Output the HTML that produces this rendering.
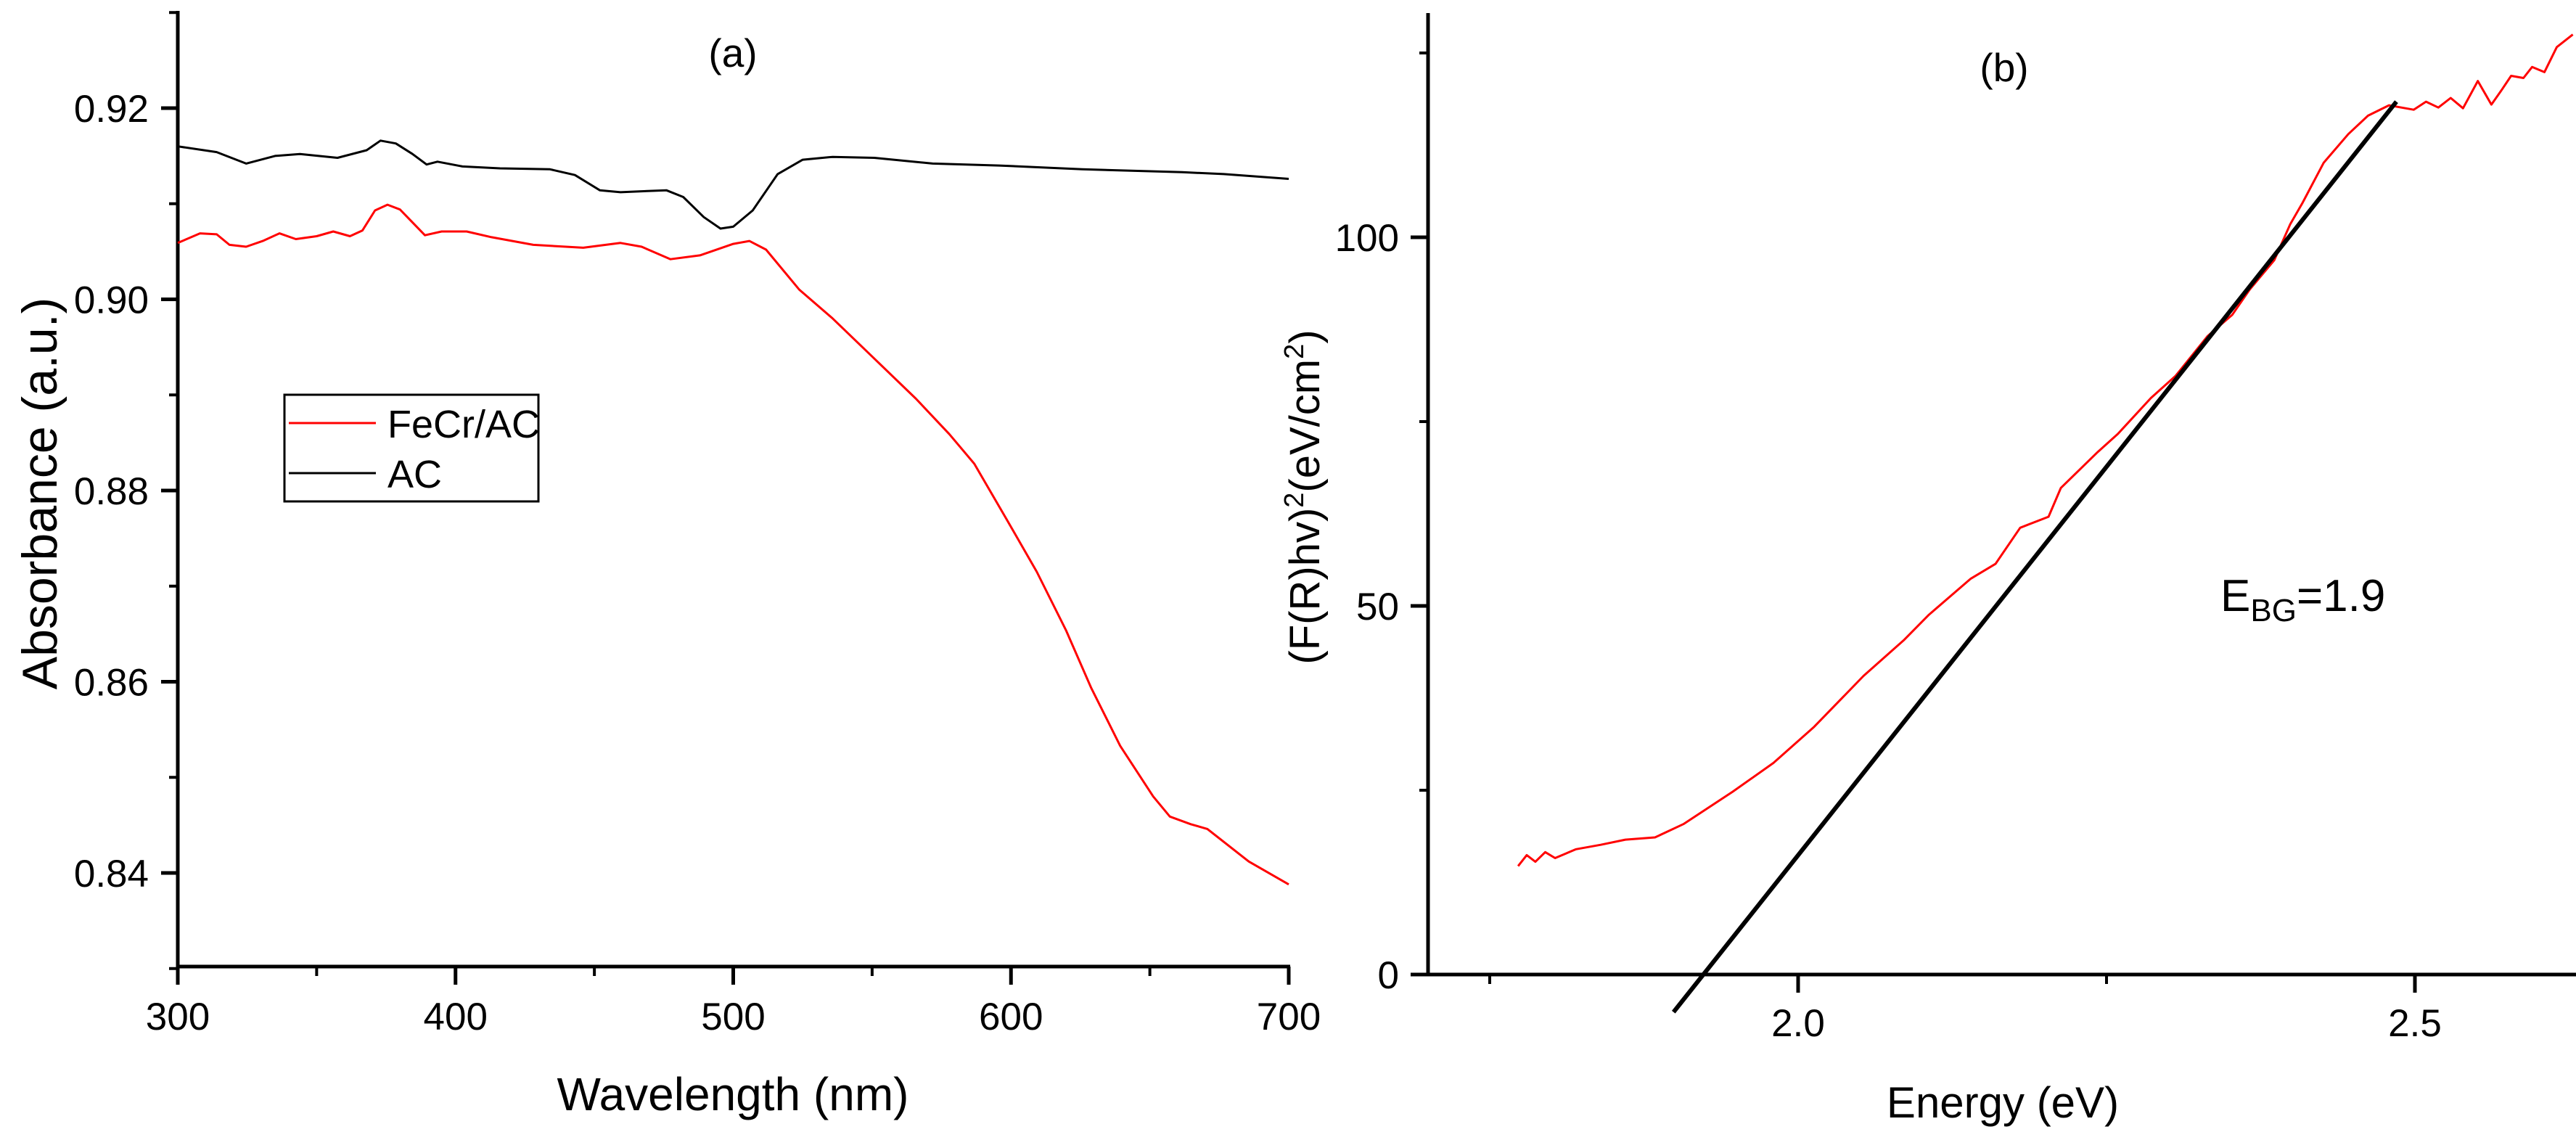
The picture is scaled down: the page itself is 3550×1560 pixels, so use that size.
<!DOCTYPE html>
<html><head><meta charset="utf-8"><style>
html,body{margin:0;padding:0;background:#fff;}
svg{display:block;font-family:"Liberation Sans",Arial,sans-serif;}
</style></head><body>
<svg id="fig" width="3550" height="1560" viewBox="0 0 3550 1560" xmlns="http://www.w3.org/2000/svg">
<g id="pa"></g>
<g id="pb"></g>
</svg>
<script>
// Panel (a) data
const waveAC = [300,314,324.6,335,344,357.5,368,373,378.5,384.5,389.6,393.5,402.5,416,434,443,452,459.4,467,476,482,489.4,495.4,500,507,516,525,535.8,550.8,571.8,595.7,625.7,661.6,676.6,700];
const absAC = [.9160,.9154,.9142,.9150,.9152,.9148,.9156,.9166,.9163,.9152,.9141,.9144,.9139,.9137,.9136,.9130,.9114,.9112,.9113,.9114,.9107,.9086,.9074,.9076,.9093,.9131,.9146,.9149,.9148,.9142,.9140,.9136,.9133,.9131,.9126];
const waveFe = [300,308,314,318.6,324.6,330.6,336.6,342.5,350,356,362,366.5,371,375.5,380,389,395,404,413,428,446,459.4,467,477.4,488,500,505.8,511.8,523.8,535.8,550.8,565.8,577.8,586.8,598.8,609.3,619.8,628.8,639.3,651.2,657.2,664.7,670.7,685.6,700];
const absFe = [.9059,.9069,.9068,.9057,.9055,.9061,.9069,.9063,.9066,.9071,.9066,.9072,.9093,.9099,.9094,.9067,.9071,.9071,.9065,.9057,.9054,.9059,.9055,.9042,.9046,.9058,.9061,.9052,.9010,.8980,.8938,.8896,.8859,.8828,.8768,.8715,.8654,.8594,.8533,.8480,.8459,.8451,.8446,.8412,.8388];
const aXTicks = [300,400,500,600,700];
const aXTickLabels = ["300","400","500","600","700"];
const aYTicks = [0.84,0.86,0.88,0.90,0.92];
const aYTickLabels = ["0.84","0.86","0.88","0.90","0.92"];
// Panel (b) data
const energy = [1.773,1.780,1.787,1.795,1.803,1.820,1.840,1.860,1.884,1.907,1.947,1.980,2.013,2.053,2.086,2.106,2.140,2.160,2.180,2.203,2.213,2.243,2.259,2.286,2.306,2.332,2.352,2.366,2.386,2.399,2.409,2.426,2.446,2.462,2.479,2.499,2.509,2.519,2.529,2.539,2.551,2.562,2.570,2.578,2.588,2.595,2.605,2.615,2.628];
const fr = [14.7,16.2,15.3,16.6,15.8,17.0,17.6,18.3,18.6,20.4,24.8,28.7,33.6,40.5,45.4,48.8,53.7,55.7,60.6,62.1,66.0,70.9,73.3,78.2,81.2,86.6,89.5,92.9,96.9,101.8,104.7,110.1,114.0,116.5,117.9,117.3,118.4,117.6,118.9,117.5,121.2,118.0,119.9,121.9,121.6,123.1,122.4,125.8,127.5];
const fitE = [1.899,2.485];
const fitV = [-5.1,118.4];
const bXTicks = [2.0,2.5];
const bXTickLabels = ["2.0","2.5"];
const bYTicks = [0,50,100];
const bYTickLabels = ["0","50","100"];

const NS="http://www.w3.org/2000/svg";
function mk(parent,tag,attrs){const e=document.createElementNS(NS,tag);for(const k in attrs)e.setAttribute(k,attrs[k]);parent.appendChild(e);return e;}
function txt(parent,x,y,s,size,anchor,extra){const t=mk(parent,'text',{x:x,y:y,'font-size':size,'text-anchor':anchor||'middle'});if(extra)for(const k in extra)t.setAttribute(k,extra[k]);t.textContent=s;return t;}

// ---- Panel A ----
const pa=document.getElementById('pa');
const ax=v=>245+(v-300)*(1776-245)/400;
const ay=v=>149+(0.92-v)*(1203-149)/0.08;
let e;
e=mk(pa,'line',{x1:245,y1:15,x2:245,y2:1334,stroke:'#000','stroke-width':5});

e=mk(pa,'line',{x1:243,y1:1332,x2:1778,y2:1332,stroke:'#000','stroke-width':5});

aXTicks.forEach((v,i)=>{
  e=mk(pa,'line',{x1:ax(v),y1:1332,x2:ax(v),y2:1357,stroke:'#000','stroke-width':5});
  
  e=txt(pa,ax(v),1419,aXTickLabels[i],53);
  
  if(i<aXTicks.length-1){
    e=mk(pa,'line',{x1:ax(v+50),y1:1332,x2:ax(v+50),y2:1345,stroke:'#000','stroke-width':4});
    
  }
});
aYTicks.forEach((v,i)=>{
  e=mk(pa,'line',{x1:222,y1:ay(v),x2:245,y2:ay(v),stroke:'#000','stroke-width':5});
  
  e=txt(pa,205,ay(v)+19,aYTickLabels[i],53,'end');
  
  [v-0.01].forEach(m=>{
    e=mk(pa,'line',{x1:233,y1:ay(m),x2:245,y2:ay(m),stroke:'#000','stroke-width':4});
    
  });
});
e=mk(pa,'line',{x1:233,y1:ay(0.93),x2:245,y2:ay(0.93),stroke:'#000','stroke-width':4});

function poly(parent,xs,ys,fx,fy,color,w,name){
  const p=xs.map((x,i)=>fx(x).toFixed(1)+','+fy(ys[i]).toFixed(1)).join(' ');
  const el=mk(parent,'polyline',{points:p,fill:'none',stroke:color,'stroke-width':w,'stroke-linejoin':'round'});
  
  
  return el;
}
poly(pa,waveAC,absAC,ax,ay,'#000',3,'ac-line');
poly(pa,waveFe,absFe,ax,ay,'#ff0000',3,'fecr-ac-line');
e=txt(pa,1010,92,'(a)',55);

e=txt(pa,1010,1530,'Wavelength (nm)',64);

e=txt(pa,0,0,'Absorbance (a.u.)',68,'middle',{transform:'translate(78,680) rotate(-90)'});

// legend
const lg=mk(pa,'g',{});

mk(lg,'rect',{x:392,y:544,width:350,height:147,fill:'#fff',stroke:'#000','stroke-width':3});
e=mk(lg,'line',{x1:398,y1:583,x2:518,y2:583,stroke:'#ff0000','stroke-width':3});

e=txt(lg,534,603,'FeCr/AC',54,'start');

e=mk(lg,'line',{x1:398,y1:652,x2:518,y2:652,stroke:'#000','stroke-width':3});

e=txt(lg,534,672,'AC',54,'start');


// ---- Panel B ----
const pb=document.getElementById('pb');
const bx=v=>2478+(v-2.0)*1700;
const by=v=>1343-v*10.16;
e=mk(pb,'line',{x1:1968,y1:18,x2:1968,y2:1345,stroke:'#000','stroke-width':5});

e=mk(pb,'line',{x1:1944,y1:1343,x2:3550,y2:1343,stroke:'#000','stroke-width':5});

bXTicks.forEach((v,i)=>{
  e=mk(pb,'line',{x1:bx(v),y1:1343,x2:bx(v),y2:1368,stroke:'#000','stroke-width':5});
  
  e=txt(pb,bx(v),1428,bXTickLabels[i],53);
  
  e=mk(pb,'line',{x1:bx(v-0.25),y1:1343,x2:bx(v-0.25),y2:1356,stroke:'#000','stroke-width':4});
  
});
bYTicks.forEach((v,i)=>{
  e=mk(pb,'line',{x1:1944,y1:by(v),x2:1968,y2:by(v),stroke:'#000','stroke-width':5});
  
  e=txt(pb,1928,by(v)+19,bYTickLabels[i],53,'end');
  
  e=mk(pb,'line',{x1:1956,y1:by(v+25),x2:1968,y2:by(v+25),stroke:'#000','stroke-width':4});
  
});
poly(pb,energy,fr,bx,by,'#ff0000',3,'fr-hv-line');
poly(pb,fitE,fitV,bx,by,'#000',6,'tauc-fit-line');
e=txt(pb,2762,112,'(b)',55);

e=txt(pb,2760,1540,'Energy (eV)',60);

const yt=mk(pb,'text',{'font-size':58,'text-anchor':'middle',transform:'translate(1818,685) rotate(-90)'});


yt.innerHTML='(F(R)hv)<tspan dy="-22" font-size="38">2</tspan><tspan dy="22">(eV/cm</tspan><tspan dy="-22" font-size="38">2</tspan><tspan dy="22">)</tspan>';
const eb=mk(pb,'text',{x:3060,y:842,'font-size':62,'text-anchor':'start'});


eb.innerHTML='E<tspan dy="14" font-size="44">BG</tspan><tspan dy="-14">=1.9</tspan>';
</script>
</body></html>
